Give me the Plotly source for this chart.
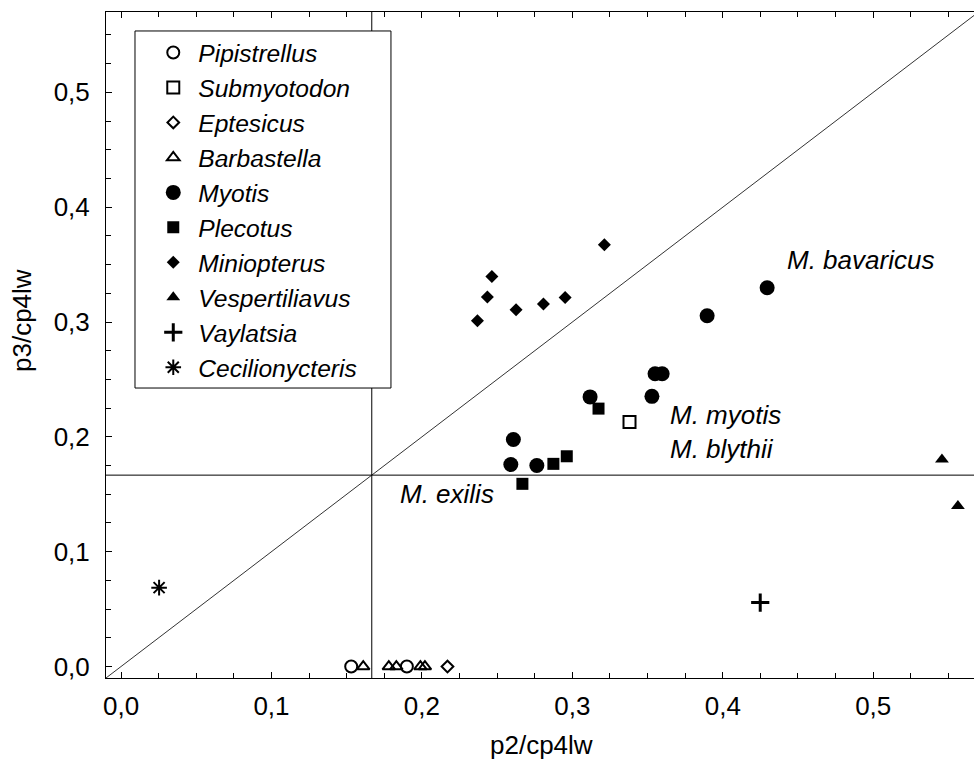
import plotly.graph_objects as go

# ---- data ----
pip_x = [0.153, 0.190]
pip_y = [0.0, 0.0]
sub_x = [0.338]
sub_y = [0.213]
ept_x = [0.217]
ept_y = [0.0]
bar_x = [0.161, 0.178, 0.183, 0.199, 0.202]
bar_y = [0.0, 0.0, 0.0, 0.0, 0.0]
myo_x = [0.2608, 0.2591, 0.2764, 0.3118, 0.3529, 0.3550, 0.3597, 0.3896, 0.4295]
myo_y = [0.1977, 0.1759, 0.1750, 0.2348, 0.2353, 0.2550, 0.2550, 0.3055, 0.3298]
ple_x = [0.2668, 0.2874, 0.2963, 0.3174]
ple_y = [0.1591, 0.1765, 0.1831, 0.2246]
min_x = [0.2369, 0.2435, 0.2465, 0.2626, 0.2808, 0.2952, 0.3213]
min_y = [0.3011, 0.3217, 0.3397, 0.3107, 0.3157, 0.3214, 0.3672]
ves_x = [0.5457, 0.5563]
ves_y = [0.1803, 0.1397]
vay_x = [0.4249]
vay_y = [0.0557]
cec_x = [0.0253]
cec_y = [0.0687]

genus_names = ["Pipistrellus", "Submyotodon", "Eptesicus", "Barbastella", "Myotis",
               "Plecotus", "Miniopterus", "Vespertiliavus", "Vaylatsia", "Cecilionycteris"]

label_texts = ["M. bavaricus", "M. myotis", "M. blythii", "M. exilis"]
label_x = [0.4415, 0.3637, 0.3637, 0.1842]
label_y = [0.354, 0.2194, 0.189, 0.150]

ref_value = 1 / 6          # reference lines
x_range = [-0.01, 0.567]
y_range = [-0.01, 0.570]
tick_vals = [0.0, 0.1, 0.2, 0.3, 0.4, 0.5]

FONT = "Liberation Sans, Arial, sans-serif"

series = [
    (pip_x, pip_y, dict(symbol="circle-open", size=12, line=dict(width=2, color="black"), color="black")),
    (sub_x, sub_y, dict(symbol="square-open", size=12, line=dict(width=2, color="black"), color="black")),
    (ept_x, ept_y, dict(symbol="diamond-open", size=9, line=dict(width=2, color="black"), color="black")),
    (bar_x, bar_y, dict(symbol="triangle-up-open", size=11, line=dict(width=2, color="black"), color="black")),
    (myo_x, myo_y, dict(symbol="circle", size=15, color="black", line=dict(width=0))),
    (ple_x, ple_y, dict(symbol="square", size=12, color="black", line=dict(width=0))),
    (min_x, min_y, dict(symbol="diamond", size=10, color="black", line=dict(width=0))),
    (ves_x, ves_y, dict(symbol="triangle-up", size=12, color="black", line=dict(width=0))),
    (vay_x, vay_y, dict(symbol="cross-thin", size=13, line=dict(width=3, color="black"), color="black")),
    (cec_x, cec_y, dict(symbol="asterisk-open", size=13, line=dict(width=2, color="black"), color="black")),
]

fig = go.Figure()
for (xs, ys, mk), name in zip(series, genus_names):
    fig.add_trace(go.Scatter(x=xs, y=ys, mode="markers", name=name, marker=mk,
                             cliponaxis=False))

# reference lines
fig.add_shape(type="line", xref="x", yref="y", x0=x_range[0], x1=x_range[1] + 0.05,
              y0=x_range[0], y1=x_range[1] + 0.05, line=dict(color="#333333", width=1))
fig.add_shape(type="line", xref="paper", yref="y", x0=0, x1=1, y0=ref_value, y1=ref_value,
              line=dict(color="black", width=1))
fig.add_shape(type="line", xref="x", yref="paper", x0=ref_value, x1=ref_value, y0=0, y1=1,
              line=dict(color="black", width=1))
# legend box
fig.add_shape(type="rect", xref="paper", yref="paper", x0=0.0334, x1=0.3283, y0=0.4354, y1=0.9715,
              line=dict(color="black", width=1), fillcolor="white", layer="above")

for t, xx, yy in zip(label_texts, label_x, label_y):
    fig.add_annotation(x=xx, y=yy, xref="x", yref="y", text=t, showarrow=False,
                       xanchor="left", yanchor="middle",
                       font=dict(family=FONT, size=26, color="black", style="italic"))

# axis titles
fig.add_annotation(x=0.502, y=-0.1006, xref="paper", yref="paper", text="p2/cp4lw",
                   showarrow=False, xanchor="center", yanchor="middle",
                   font=dict(family=FONT, size=26, color="black"))
fig.add_annotation(x=-0.0968, y=0.5375, xref="paper", yref="paper", text="p3/cp4lw",
                   showarrow=False, textangle=-90, xanchor="center", yanchor="middle",
                   font=dict(family=FONT, size=26, color="black"))

axis_common = dict(showgrid=False, zeroline=False, showline=True, linecolor="black", linewidth=1,
                   ticks="inside", ticklen=6, tickcolor="black", tickwidth=1,
                   tickvals=tick_vals, tickformat=".1f",
                   tickfont=dict(family=FONT, size=26, color="black"),
                   minor=dict(dtick=0.025, ticks="inside", ticklen=5, tickcolor="black", tickwidth=1))

fig.update_xaxes(range=x_range, mirror="ticks", ticklabelstandoff=5, **axis_common)
fig.update_yaxes(range=y_range, mirror=False, ticklabelstandoff=10, **axis_common)

fig.update_layout(
    width=974, height=774,
    margin=dict(l=106, r=0, t=12, b=96),
    paper_bgcolor="white", plot_bgcolor="white",
    separators=", ",
    font=dict(family=FONT, size=26, color="black"),
    showlegend=True,
    legend=dict(x=0.0487, y=0.973, xanchor="left", yanchor="top",
                bgcolor="rgba(0,0,0,0)", borderwidth=0, itemwidth=40,
                font=dict(family=FONT, size=24.6, color="black", style="italic"),
                tracegroupgap=0),
)

fig.write_html("out.html")
